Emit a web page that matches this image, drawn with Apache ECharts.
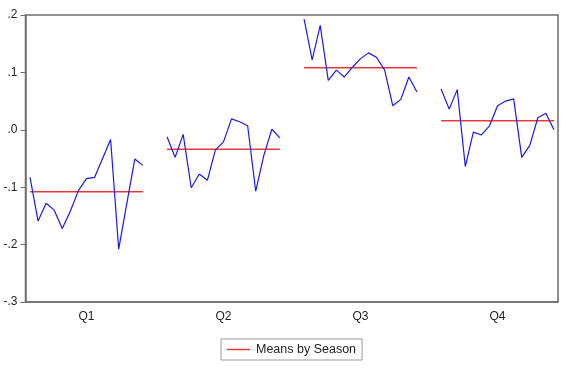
<!DOCTYPE html>
<html>
<head>
<meta charset="utf-8">
<script src="https://cdn.jsdelivr.net/npm/echarts@6/dist/echarts.min.js"></script>
<style>html,body{margin:0;padding:0;background:#fff}#c{width:561px;height:368px}</style>
</head>
<body>
<div id="c"></div>
<script>
var seasons = ['Q1', 'Q2', 'Q3', 'Q4'];
var q1 = [-0.083, -0.159, -0.128, -0.140, -0.172, -0.142, -0.106, -0.085, -0.083, -0.050, -0.017, -0.208, -0.129, -0.051, -0.062];
var q2 = [-0.012, -0.048, -0.008, -0.101, -0.077, -0.088, -0.035, -0.021, 0.019, 0.014, 0.007, -0.107, -0.045, 0.001, -0.014];
var q3 = [0.193, 0.122, 0.182, 0.086, 0.104, 0.092, 0.109, 0.124, 0.134, 0.126, 0.104, 0.042, 0.053, 0.092, 0.066];
var q4 = [0.071, 0.036, 0.070, -0.064, -0.004, -0.009, 0.007, 0.042, 0.050, 0.054, -0.048, -0.027, 0.021, 0.029, 0.000];
var means = [-0.108, -0.034, 0.108, 0.0157];
var yTicks = [-0.3, -0.2, -0.1, 0.0, 0.1, 0.2];

var groups = [q1, q2, q3, q4];
var period = 17; // slots per season block (15 obs + gap)
var series = [];
groups.forEach(function (vals, g) {
  series.push({
    type: 'line', name: seasons[g], showSymbol: false, symbol: 'none',
    lineStyle: { color: '#1a1ae6', width: 1.2 }, silent: true,
    data: vals.map(function (v, i) { return [g * period + i, v]; }),
    z: 3
  });
});
groups.forEach(function (vals, g) {
  series.push({
    type: 'line', name: 'Means by Season', showSymbol: false, symbol: 'none',
    lineStyle: { color: '#e8383c', width: 1.5 }, itemStyle: { color: '#e8383c' }, silent: true,
    data: [[g * period, means[g]], [g * period + vals.length - 1, means[g]]],
    z: 2
  });
});
var centers = seasons.map(function (s, g) { return g * period + (groups[g].length - 1) / 2; });

function fmt(v) {
  var s = (Math.round(v * 10) / 10).toFixed(1);
  if (s === '-0.0') s = '0.0';
  return s.replace(/^(-?)0\./, '$1.');
}

var chart = echarts.init(document.getElementById('c'), null, { renderer: 'canvas' });
chart.setOption({
  animation: false,
  backgroundColor: '#fff',
  textStyle: { fontFamily: 'Liberation Sans, Arial, sans-serif' },
  grid: { left: 25.5, right: 3, top: 15, bottom: 66, show: true, borderColor: '#6e6e6e', borderWidth: 1.5, containLabel: false },
  legend: {
    data: ['Means by Season'], left: 221, top: 339, orient: 'horizontal',
    icon: 'rect', itemWidth: 23, itemHeight: 1.5, itemGap: 6,
    padding: [4, 6, 4, 6], borderColor: '#9a9a9a', borderWidth: 1,
    textStyle: { fontSize: 12.5, color: '#222', fontFamily: 'Liberation Sans, Arial, sans-serif', padding: [0, 0, 0, 1] },
    selectedMode: false
  },
  xAxis: {
    type: 'value', min: -0.56, max: 65.5,
    splitLine: { show: false },
    axisLine: { show: true, onZero: false, lineStyle: { color: '#6e6e6e', width: 1.5 } },
    axisTick: { show: false },
    axisLabel: {
      show: true, customValues: centers, margin: 9, fontSize: 12, color: '#222',
      formatter: function (v) {
        for (var i = 0; i < centers.length; i++) if (Math.abs(centers[i] - v) < 1e-6) return seasons[i];
        return '';
      }
    }
  },
  yAxis: {
    type: 'value', min: -0.3, max: 0.2, interval: 0.1,
    splitLine: { show: false },
    axisLine: { show: true, onZero: false, lineStyle: { color: '#6e6e6e', width: 1.5 } },
    axisTick: { show: true, length: 5, lineStyle: { color: '#6e6e6e', width: 1 }, customValues: yTicks },
    axisLabel: { fontSize: 12, color: '#222', margin: 8, customValues: yTicks, formatter: fmt }
  },
  series: series
});
</script>
</body>
</html>
